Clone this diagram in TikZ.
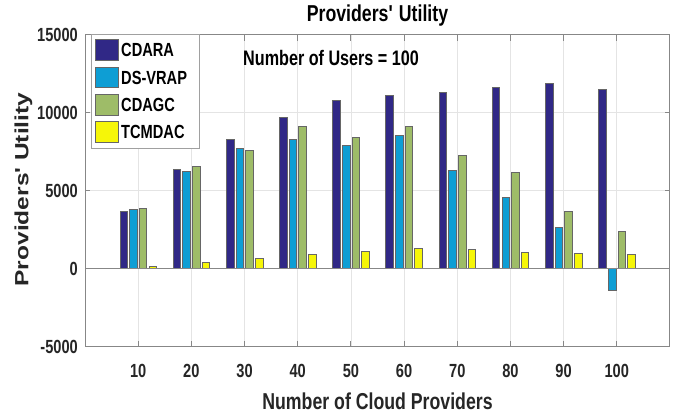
\documentclass[tikz,border=0pt]{standalone}
\usepackage{graphicx}
\usepackage{fontspec}
\setmainfont{Liberation Sans}[FakeStretch=0.77]
\newfontfamily\ylfont{Liberation Sans}
\definecolor{cdara}{RGB}{48,40,134}
\definecolor{dsvrap}{RGB}{14,158,212}
\definecolor{cdagc}{RGB}{158,188,104}
\definecolor{tcm}{RGB}{246,246,8}
\definecolor{axgray}{RGB}{135,135,135}
\definecolor{gridgray}{RGB}{228,228,228}
\definecolor{leggray}{RGB}{160,160,160}
\begin{document}
\begin{tikzpicture}[x=1pt,y=1pt,
  barbox/.style={draw=black!60, line width=0.6pt},
  patchbox/.style={draw=black!60, line width=0.7pt},
  ticklab/.style={font=\fontsize{19}{21}\selectfont\bfseries, text=black!85, inner sep=0pt},
  leglab/.style={font=\fontsize{19}{21}\selectfont\bfseries, inner sep=0pt, anchor=base west},
  axline/.style={draw=axgray, line width=1pt}]
\useasboundingbox (0,0) rectangle (678,416);
\fill[white] (0,0) rectangle (678,416);
\begin{scope}[shift={(85pt,147.5pt)}, x=53.18pt, y=15.6pt]
  % grid
  \foreach \k in {1,...,10} \draw[gridgray, line width=0.7pt] (\k,-5) -- (\k,15);
  \foreach \v in {5,10} \draw[gridgray, line width=0.7pt] (0,\v) -- (11,\v);
  % bars
  \foreach \k/\a/\b/\c/\d in {
      1/3.64/3.79/3.89/0.15,
      2/6.39/6.24/6.58/0.42,
      3/8.26/7.70/7.57/0.67,
      4/9.69/8.30/9.09/0.89,
      5/10.77/7.91/8.39/1.13,
      6/11.10/8.51/9.09/1.30,
      7/11.29/6.32/7.27/1.21,
      8/11.59/4.54/6.15/1.05,
      9/11.87/2.62/3.68/0.98,
      10/11.48/-1.42/2.40/0.89} {
    \draw[barbox, fill=cdara]  ({\k-0.2727-0.0715},0) rectangle ({\k-0.2727+0.0715},\a);
    \draw[barbox, fill=dsvrap] ({\k-0.0903-0.0715},0) rectangle ({\k-0.0903+0.0715},\b);
    \draw[barbox, fill=cdagc]  ({\k+0.0903-0.0715},0) rectangle ({\k+0.0903+0.0715},\c);
    \draw[barbox, fill=tcm]    ({\k+0.2727-0.0715},0) rectangle ({\k+0.2727+0.0715},\d);
  }
  % zero baseline
  \draw[axgray, line width=1.4pt] (0,0) -- (11,0);
  % box and ticks
  \draw[axline] (0,-5) rectangle (11,15);
  \foreach \k/\t in {1/10,2/20,3/30,4/40,5/50,6/60,7/70,8/80,9/90,10/100} {
    \draw[axline] (\k,-5) -- ++(0,6pt);
    \draw[axline] (\k,15) -- ++(0,-7pt);
    \node[ticklab, anchor=base] (xt\k) at ([yshift=-30.7pt]\k,-5) {\t};
  }
  \foreach \v/\t in {-5/-5000,0/0,5/5000,10/10000,15/15000} {
    \draw[axline] (0,\v) -- ++(5pt,0);
    \draw[axline] (11,\v) -- ++(-5pt,0);
    \node[ticklab, anchor=east] (yt\t) at ([xshift=-7pt]0,\v) {\t};
  }
\end{scope}
% legend
\draw[draw=leggray, fill=white, line width=0.8pt] (91,382) rectangle (199,268);
\foreach \i/\col/\lab in {0/cdara/CDARA,1/dsvrap/DS-VRAP,2/cdagc/CDAGC,3/tcm/TCMDAC} {
  \draw[patchbox, fill=\col] (95.7,{416-49.9-27.4*\i-10.3}) rectangle (118.3,{416-49.9-27.4*\i+10.3});
  \node[leglab] (leg\i) at (121,{416-49.9-27.4*\i-6.9}) {\lab};
}
% title and annotations
\node[anchor=base, inner sep=0pt, font=\fontsize{23}{25}\selectfont\bfseries] (title) at (377.5,394) {Providers\textquotesingle{} Utility};
\node[anchor=base west, inner sep=0pt, font=\fontsize{21}{23}\selectfont\bfseries] (users) at (243,350) {Number of Users = 100};
\node[anchor=base, inner sep=0pt, font=\fontsize{23}{25}\selectfont\bfseries, text=black!85] (xlab) at (377.5,6.7) {Number of Cloud Providers};
\node[rotate=90, inner sep=0pt, font=\ylfont\fontsize{24.5}{26}\selectfont\bfseries, text=black!85] (ylab) at (23.5,226.5) {\scalebox{1}[0.78]{Providers\textquotesingle{} Utility}};
\end{tikzpicture}
\end{document}
